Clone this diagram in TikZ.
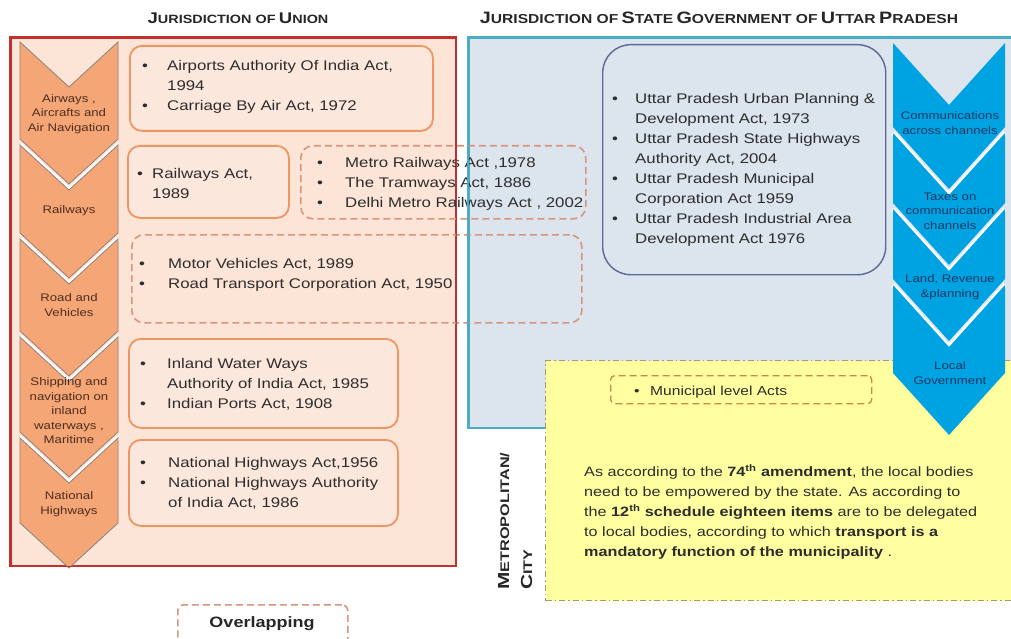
\documentclass[tikz,border=0pt]{standalone}
\usepackage{fontspec}
\setmainfont{Liberation Sans}[FakeStretch=1.2]
\newfontfamily\metrofont{Liberation Sans}[FakeStretch=1.3]

\definecolor{unionfill}{RGB}{252,228,214}
\definecolor{unionedge}{RGB}{196,48,48}
\definecolor{actfill}{RGB}{252,231,220}
\definecolor{actedge}{RGB}{238,150,98}
\definecolor{dashedge}{RGB}{214,150,125}
\definecolor{statefill}{RGB}{220,228,238}
\definecolor{stateedge}{RGB}{75,172,198}
\definecolor{upedge}{RGB}{92,104,150}
\definecolor{chevorange}{RGB}{244,166,118}
\definecolor{chevline}{RGB}{140,130,125}
\definecolor{chevblue}{RGB}{0,163,226}
\definecolor{cityfill}{RGB}{255,255,160}
\definecolor{cityedge}{RGB}{165,155,110}
\definecolor{muniedge}{RGB}{205,135,75}
\definecolor{bodytext}{RGB}{45,45,45}
\definecolor{chevtext}{RGB}{80,45,30}
\definecolor{bluetext}{RGB}{25,55,100}

% bullet in a box of fixed width, so that the item text starts at a set place
\newcommand\bul[1][25pt]{\makebox[#1][l]{\textbullet}}
\newcommand\firstline{\rule{0pt}{11pt}}
% small-capital headings built from two sizes
\newcommand\tcap[1]{{\fontsize{15.5}{18}\selectfont #1}}
\newcommand\tsml[1]{{\fontsize{12}{14}\selectfont #1}}
\newcommand\scap[1]{{\fontsize{16.5}{18}\selectfont #1}}
\newcommand\ssml[1]{{\fontsize{13}{14}\selectfont #1}}
% a chevron: style, left x, right x, top y, lower end of the sides, notch depth
\newcommand\chevron[6]{%
  \path[#1] (#2,#4) -- ({(#2+#3)/2},{#4+#6}) -- (#3,#4) -- (#3,#5)
    -- ({(#2+#3)/2},{#5+#6}) -- (#2,#5) -- cycle;}
% white parting line along the notch of a chevron: left x, right x, top y, notch depth
\newcommand\parting[4]{%
  \path[draw=white, line width=4.5pt, line join=miter]
    (#1,#3) -- ({(#1+#2)/2},{#3+#4}) -- (#2,#3);}

\begin{document}
\begin{tikzpicture}[x=1pt,y=-1pt,
  panel/.style={rectangle, inner sep=0pt, anchor=north west},
  unionpanel/.style={panel, fill=unionfill, draw=unionedge, line width=1.6pt},
  statepanel/.style={panel, fill=statefill, draw=stateedge, line width=1.6pt},
  citypanel/.style={panel, fill=cityfill, draw=cityedge, line width=1.1pt,
    dash pattern=on 6pt off 3pt on 1.5pt off 3pt},
  actbox/.style={panel, fill=actfill, draw=actedge, line width=1.8pt, rounded corners=12pt},
  dashbox/.style={panel, draw=dashedge, line width=1.6pt, rounded corners=12pt,
    dash pattern=on 7pt off 4pt},
  upbox/.style={panel, draw=upedge, line width=1.4pt, rounded corners=28pt},
  munibox/.style={panel, draw=muniedge, line width=1.3pt, rounded corners=4pt,
    dash pattern=on 7pt off 4pt},
  acttext/.style={inner sep=0pt, anchor=north west, align=left, text=bodytext,
    font=\fontsize{14}{20}\selectfont},
  chevlabel/.style={inner sep=0pt, align=center, text=chevtext,
    font=\fontsize{11}{14.5}\selectfont},
  bluelabel/.style={inner sep=0pt, align=center, text=bluetext,
    font=\fontsize{11}{14.5}\selectfont},
  titletext/.style={inner sep=0pt, anchor=base, text=black!85, font=\bfseries},
  orangechev/.style={fill=chevorange, draw=chevline, line width=0.8pt, line join=miter},
  bluechev/.style={fill=chevblue}]

\useasboundingbox (0,0) rectangle (1011,639);
\clip (0,0) rectangle (1011,639);

% ---- the two jurisdictions and the metropolitan area ----
\node[unionpanel, minimum width=445pt, minimum height=528pt] (union) at (10,37) {};
\node[statepanel, minimum width=548pt, minimum height=390pt] (state) at (468,37) {};
\node[citypanel, minimum width=470pt, minimum height=240pt] (city) at (545,360) {};

% ---- chevrons of the union list ----
\chevron{orangechev}{20}{118}{42}{139}{45}
\parting{20}{118}{145}{45}
\chevron{orangechev}{20}{118}{145}{233}{45}
\parting{20}{118}{239}{45}
\chevron{orangechev}{20}{118}{239}{331}{45}
\parting{20}{118}{337}{45}
\chevron{orangechev}{20}{118}{337}{432}{45}
\parting{20}{118}{438}{45}
\chevron{orangechev}{20}{118}{438}{523}{45}

\node[chevlabel] (airways) at (69,114) {Airways ,\\Aircrafts and\\Air Navigation};
\node[chevlabel] (railways) at (69,211) {Railways};
\node[chevlabel] (road) at (69,305) {Road and\\Vehicles};
\node[chevlabel] (shipping) at (69,411) {Shipping and\\navigation on\\inland\\waterways ,\\Maritime};
\node[chevlabel] (highways) at (69,504) {National\\Highways};

% ---- chevrons of the state list ----
\chevron{bluechev}{893}{1005}{43}{127}{62}
\parting{893}{1005}{133}{62}
\chevron{bluechev}{893}{1005}{133}{203}{62}
\parting{893}{1005}{209}{62}
\chevron{bluechev}{893}{1005}{209}{279}{62}
\parting{893}{1005}{285}{62}
\chevron{bluechev}{893}{1005}{285}{373}{62}

\node[bluelabel] (comm) at (950,123) {Communications\\across channels};
\node[bluelabel] (taxes) at (950,211) {Taxes on\\communication\\channels};
\node[bluelabel] (land) at (950,287) {Land, Revenue\\\&planning};
\node[bluelabel] (localgov) at (950,373) {Local\\Government};

% ---- union acts ----
\node[actbox, minimum width=303pt, minimum height=85pt] (airbox) at (129,45) {};
\node[acttext] (airtext) at (142,59) {\firstline\bul Airports Authority Of India Act,\\
  \hspace*{25pt}1994\\ \bul Carriage By Air Act, 1972};

\node[actbox, minimum width=161pt, minimum height=72pt] (railbox) at (127,145) {};
\node[acttext] (railtext) at (137,167) {\firstline\bul[15pt]Railways Act,\\ \hspace*{15pt}1989};

\node[actbox, minimum width=269pt, minimum height=89pt] (waterbox) at (128,338) {};
\node[acttext] (watertext) at (140,357) {\firstline\bul[27pt]Inland Water Ways\\
  \hspace*{27pt}Authority of India Act, 1985\\ \bul[27pt]Indian Ports Act, 1908};

\node[actbox, minimum width=269pt, minimum height=86pt] (nhbox) at (128,439) {};
\node[acttext] (nhtext) at (140,456) {\firstline\bul[28pt]National Highways Act,1956\\
  \bul[28pt]National Highways Authority\\ \hspace*{28pt}of India Act, 1986};

% ---- state acts ----
\node[upbox, minimum width=283pt, minimum height=230pt] (upacts) at (602,44) {};
\node[acttext] (uptext) at (612,92) {\firstline\bul[23pt]Uttar Pradesh Urban Planning \&\\
  \hspace*{23pt}Development Act, 1973\\
  \bul[23pt]Uttar Pradesh State Highways\\
  \hspace*{23pt}Authority Act, 2004\\
  \bul[23pt]Uttar Pradesh Municipal\\
  \hspace*{23pt}Corporation Act 1959\\
  \bul[23pt]Uttar Pradesh Industrial Area\\
  \hspace*{23pt}Development Act 1976};

\node[munibox, minimum width=261pt, minimum height=28pt] (munibox) at (610,375) {};
\node[acttext, font=\fontsize{13}{18}\selectfont] (munitext) at (634,384)
  {\firstline\bul[16pt]Municipal level Acts};

% ---- overlapping acts ----
\node[dashbox, minimum width=285pt, minimum height=73pt] (metrobox) at (300,145) {};
\node[acttext] (metrotext) at (317,156) {\firstline\bul[28pt]Metro Railways Act ,1978\\
  \bul[28pt]The Tramways Act, 1886\\ \bul[28pt]Delhi Metro Railways Act , 2002};

\node[dashbox, minimum width=450pt, minimum height=88pt] (motorbox) at (131,234) {};
\node[acttext] (motortext) at (139,257) {\firstline\bul[29pt]Motor Vehicles Act, 1989\\
  \bul[29pt]Road Transport Corporation Act, 1950};

% panel borders run over the overlapping boxes
\draw[unionedge, line width=1.6pt] (union.north west) rectangle (union.south east);
\draw[stateedge, line width=1.6pt] (state.south west) -- (state.north west) -- (state.north east);

% ---- metropolitan level ----
\node[acttext, font=\fontsize{13.5}{20}\selectfont] (citytext) at (584,464)
  {\firstline As according to the \textbf{74\textsuperscript{th} amendment}, the local bodies\\
  need to be empowered by the state. As according to\\
  the \textbf{12\textsuperscript{th} schedule eighteen items} are to be delegated\\
  to local bodies, according to which \textbf{transport is a}\\
  \textbf{mandatory function of the municipality} .};

\node[rotate=90, anchor=north west, inner sep=0pt, align=left, text=black!85,
  font=\metrofont\bfseries\fontsize{12.5}{23}\selectfont] (metrolabel) at (498,590)
  {{\fontsize{16}{23}\selectfont M}ETROPOLITAN/\\{\fontsize{16}{23}\selectfont C}ITY};

% ---- headings ----
\node[titletext] (uniontitle) at (238,24) {\tcap{J}\tsml{URISDICTION OF} \tcap{U}\tsml{NION}};
\node[titletext] (statetitle) at (719,24) {\scap{J}\ssml{URISDICTION OF} \scap{S}\ssml{TATE}
  \scap{G}\ssml{OVERNMENT OF} \scap{U}\ssml{TTAR} \scap{P}\ssml{RADESH}};

% ---- key ----
\node[dashbox, rounded corners=6pt, minimum width=170pt, minimum height=60pt] (keybox) at (177,604) {};
\node[inner sep=0pt, text=black!85, font=\bfseries\fontsize{15}{18}\selectfont] (keytext)
  at (262,624) {Overlapping};

\end{tikzpicture}
\end{document}
